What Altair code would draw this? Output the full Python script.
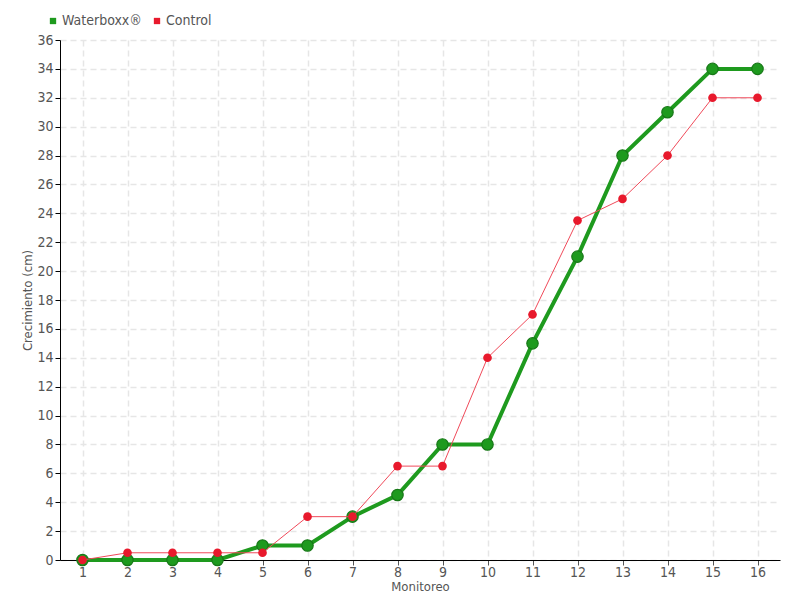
import altair as alt
import pandas as pd

monitoreo = list(range(1, 17))
waterboxx = [0, 0, 0, 0, 1, 1, 3, 4.5, 8, 8, 15, 21, 28, 31, 34, 34]
control = [0, 0.5, 0.5, 0.5, 0.5, 3, 3, 6.5, 6.5, 14, 17, 23.5, 25, 28, 32, 32]
series_names = ["Waterboxx®", "Control"]
y_ticks = list(range(0, 37, 2))

rows = []
for m, w, c in zip(monitoreo, waterboxx, control):
    rows.append({"Monitoreo": m, "valor": w, "serie": series_names[0]})
    rows.append({"Monitoreo": m, "valor": c, "serie": series_names[1]})
df = pd.DataFrame(rows)

FONT = "Liberation Sans Narrow, DejaVu Sans Condensed, Roboto, sans-serif"
GREEN = "#1e9a1e"
RED = "#e8192c"

x_enc = alt.X("Monitoreo:O", scale=alt.Scale(type="point", padding=0.5),
              axis=alt.Axis(title="Monitoreo", labelAngle=0, titlePadding=1,
                            labelPadding=0, grid=True, titleFontSize=13,
                            domainColor="#000", tickColor="#555", tickSize=5,
                            gridDash=[6, 4], gridColor="#e6e6e6", gridWidth=1.5))
y_enc = alt.Y("valor:Q", scale=alt.Scale(domain=[0, 36], nice=False),
              axis=alt.Axis(title="Crecimiento (cm)", values=y_ticks, titlePadding=2,
                            labelPadding=2, titleFontSize=13,
                            domainColor="#000", tickColor="#000", tickSize=5,
                            gridDash=[6, 4], gridColor="#e6e6e6", gridWidth=1.5))
color_enc = alt.Color("serie:N",
                      scale=alt.Scale(domain=series_names, range=[GREEN, RED]),
                      legend=alt.Legend(title=None, orient="none", direction="horizontal",
                                        legendX=-14, legendY=-26, symbolType="square",
                                        symbolSize=40, symbolStrokeWidth=0,
                                        labelFontSize=14, columnPadding=8,
                                        labelOffset=2))

base = alt.Chart(df)
g = base.transform_filter(alt.datum.serie == series_names[0])
r = base.transform_filter(alt.datum.serie == series_names[1])

green_line = g.mark_line(color=GREEN, strokeWidth=4).encode(x=x_enc, y=y_enc)
green_pts = g.mark_point(filled=True, size=130, stroke="#187818", strokeWidth=1.2,
                         opacity=1).encode(x=x_enc, y=y_enc, color=color_enc)
red_line = r.mark_line(color="#f04a5a", strokeWidth=1).encode(x=x_enc, y=y_enc)
red_pts = r.mark_point(filled=True, size=75, opacity=1).encode(x=x_enc, y=y_enc, color=color_enc)

chart = alt.layer(green_line, green_pts, red_line, red_pts).properties(
    width=720, height=520,
    autosize=alt.AutoSizeParams(type="none"),
    padding={"left": 52, "top": 32, "right": 12, "bottom": 40},
).configure_view(stroke=None).configure_axis(
    labelFont=FONT, titleFont=FONT, labelFontSize=14,
    labelColor="#555", titleColor="#555", titleFontWeight="normal",
).configure_legend(labelFont=FONT, labelColor="#555")

chart.save("out.html", embed_options={"renderer": "svg", "actions": False})
